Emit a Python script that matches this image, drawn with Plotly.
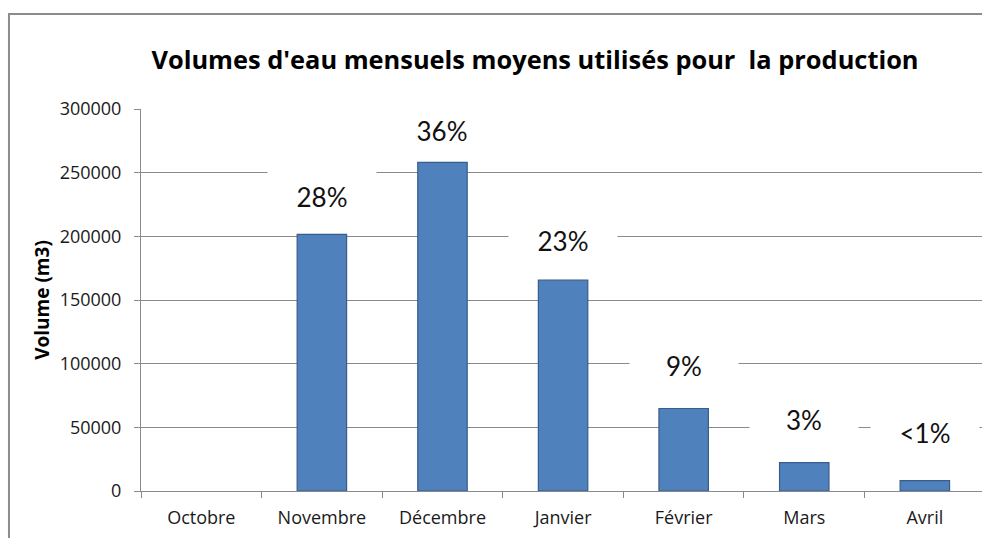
import plotly.graph_objects as go

# Monthly average water volumes used for production (m3)
months = ["Octobre", "Novembre", "Décembre", "Janvier", "Février", "Mars", "Avril"]
volumes = [0, 201500, 258100, 165600, 64800, 22300, 8200]
share_labels = ["", "28%", "36%", "23%", "9%", "3%", "<1%"]
y_ticks = [0, 50000, 100000, 150000, 200000, 250000, 300000]

# label placement: lift (px) above each bar top, and white box height (px)
label_lift = [0, 37, 31, 39, 42, 43, 48]
box_height = [0, 50, 40, 50, 50, 50, 50]

GRID = "#8a8a8a"
TEXT = "#1a1a1a"

fig = go.Figure(
    go.Bar(
        x=months,
        y=volumes,
        width=0.41,
        marker=dict(
            color="#4f81bd",
            line=dict(color="#385d8a", width=[1.2 if v > 0 else 0 for v in volumes]),
        ),
        hoverinfo="x+y",
    )
)

for m, v, lab, lift, bh in zip(months, volumes, share_labels, label_lift, box_height):
    if not lab:
        continue
    fig.add_annotation(
        x=m, y=v, yshift=lift,
        text=lab, showarrow=False,
        xanchor="center", yanchor="middle",
        width=104, height=bh, borderpad=2,
        bgcolor="white",
        font=dict(family="Lato", size=26, color="#111111"),
    )

# chart frame
fig.add_shape(
    type="rect", xref="paper", yref="paper",
    x0=-0.157, x1=1.1, y0=-0.3, y1=1.2487,
    line=dict(color="#8c8c8c", width=2), fillcolor="rgba(0,0,0,0)",
    layer="below",
)

fig.update_layout(
    width=982, height=538,
    margin=dict(l=141, r=0, t=109, b=47),
    paper_bgcolor="white", plot_bgcolor="white",
    showlegend=False,
    title=dict(
        text="<b>Volumes d'eau mensuels moyens utilisés pour  la production</b>",
        x=535 / 982, xref="container", xanchor="center",
        y=0.888, yanchor="middle",
        font=dict(family="Open Sans", size=25.4, color="#000000"),
    ),
    font=dict(family="Open Sans", size=18, color=TEXT),
)

fig.update_xaxes(
    type="category",
    range=[-0.5, 6.474],
    showline=True, linecolor=GRID, linewidth=1,
    ticks="outside", tickson="boundaries", ticklen=6, tickcolor=GRID,
    ticklabelstandoff=10,
    showgrid=False,
    tickfont=dict(family="Open Sans", size=18, color=TEXT),
)
fig.update_yaxes(
    range=[0, 300000],
    tickvals=y_ticks,
    ticktext=[str(t) for t in y_ticks],
    showline=True, linecolor=GRID, linewidth=1,
    ticks="outside", ticklen=6, tickcolor=GRID,
    ticklabelstandoff=9,
    showgrid=True, gridcolor=GRID, gridwidth=1,
    zeroline=False,
    title=dict(text="<b>Volume (m3)</b>", font=dict(family="Open Sans", size=19, color="#000000"), standoff=4),
    tickfont=dict(family="Open Sans", size=18, color=TEXT),
)

fig.write_html("out.html")
